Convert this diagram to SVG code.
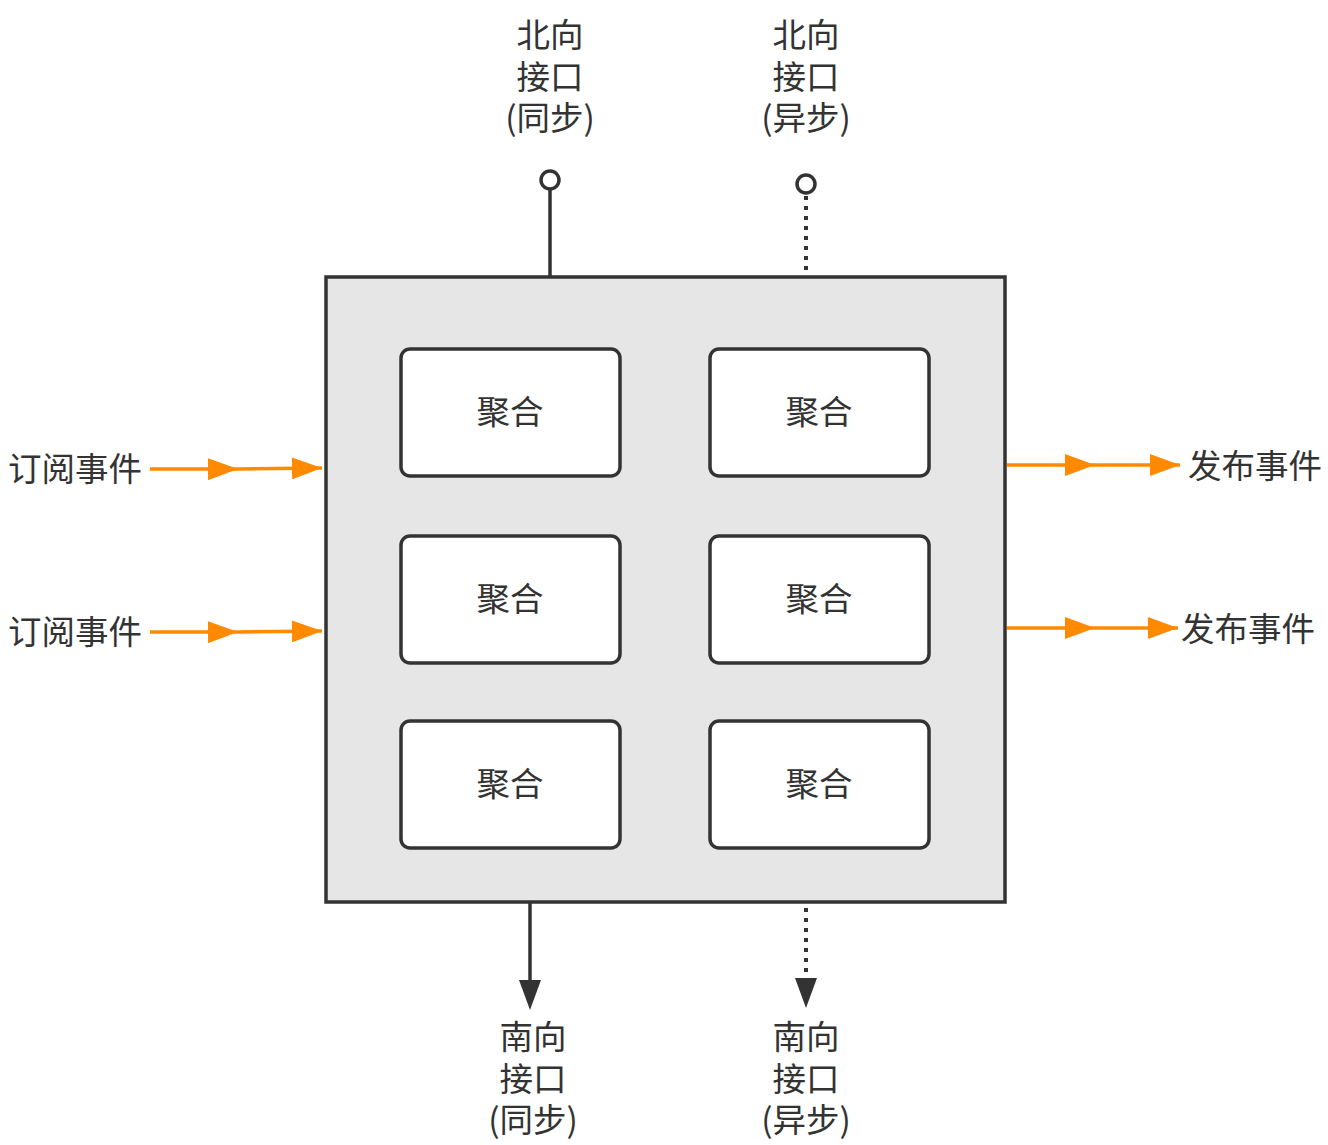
<svg xmlns="http://www.w3.org/2000/svg" width="1328" height="1145" viewBox="0 0 1328 1145">
<defs>
<style>
.t{font-family:"Noto Sans CJK SC","Liberation Sans",sans-serif;font-size:33.5px;fill:#333;text-anchor:middle}
.ts{font-family:"Noto Sans CJK SC","Liberation Sans",sans-serif;font-size:33.5px;fill:#333}
.box{fill:#fff;stroke:#333;stroke-width:3.5}
.org{fill:none;stroke:#FF8A00;stroke-width:3.5}
.dk{fill:none;stroke:#333;stroke-width:3.5}
.dot{fill:none;stroke:#333;stroke-width:4;stroke-dasharray:4 6}
</style>
<marker id="oa" viewBox="0 0 30 22" refX="30" refY="11" markerWidth="30" markerHeight="22" markerUnits="userSpaceOnUse" orient="auto"><path d="M0,0 L30,11 L0,22 Z" fill="#FF8A00"/></marker>
</defs>
<g id="main"><rect x="326" y="277" width="679" height="625" fill="#e6e6e6" stroke="#333" stroke-width="3.5"/></g>
<g id="agg1"><rect class="box" x="401" y="349" width="219" height="127" rx="9"/><text class="t" x="510" y="424">聚合</text></g>
<g id="agg2"><rect class="box" x="710" y="349" width="219" height="127" rx="9"/><text class="t" x="819" y="424">聚合</text></g>
<g id="agg3"><rect class="box" x="401" y="536" width="219" height="127" rx="9"/><text class="t" x="510" y="611">聚合</text></g>
<g id="agg4"><rect class="box" x="710" y="536" width="219" height="127" rx="9"/><text class="t" x="819" y="611">聚合</text></g>
<g id="agg5"><rect class="box" x="401" y="721" width="219" height="127" rx="9"/><text class="t" x="510" y="796">聚合</text></g>
<g id="agg6"><rect class="box" x="710" y="721" width="219" height="127" rx="9"/><text class="t" x="819" y="796">聚合</text></g>
<g id="connectors">
<line class="dk" x1="550" y1="188" x2="550" y2="277"/>
<circle cx="550" cy="180" r="9" fill="#fff" stroke="#333" stroke-width="3.5"/>
<line class="dot" x1="806" y1="196" x2="806" y2="277"/>
<circle cx="806" cy="184" r="9" fill="#fff" stroke="#333" stroke-width="3.5"/>
<polyline class="org" points="150,469 238,469 322,468" marker-mid="url(#oa)" marker-end="url(#oa)"/>
<polyline class="org" points="150,632 238,632 322,631" marker-mid="url(#oa)" marker-end="url(#oa)"/>
<polyline class="org" points="1007,465 1095,465 1180,465" marker-mid="url(#oa)" marker-end="url(#oa)"/>
<polyline class="org" points="1007,628 1095,628 1178,628" marker-mid="url(#oa)" marker-end="url(#oa)"/>
<line class="dk" x1="530" y1="902" x2="530" y2="985"/>
<path d="M519,980 L541,980 L530,1010 Z" fill="#333"/>
<line class="dot" x1="806" y1="908" x2="806" y2="975"/>
<path d="M795,978 L817,978 L806,1008 Z" fill="#333"/>
</g>
<g id="labels">
<text class="t" x="550" y="47">北向</text>
<text class="t" x="550" y="89">接口</text>
<text class="t" x="550" y="130">(同步)</text>
<text class="t" x="806" y="47">北向</text>
<text class="t" x="806" y="89">接口</text>
<text class="t" x="806" y="130">(异步)</text>
<text class="t" x="533" y="1049">南向</text>
<text class="t" x="533" y="1091">接口</text>
<text class="t" x="533" y="1132">(同步)</text>
<text class="t" x="806" y="1049">南向</text>
<text class="t" x="806" y="1091">接口</text>
<text class="t" x="806" y="1132">(异步)</text>
<text class="ts" x="8" y="481">订阅事件</text>
<text class="ts" x="8" y="644">订阅事件</text>
<text class="ts" x="1188" y="478">发布事件</text>
<text class="ts" x="1181" y="641">发布事件</text>
</g>
</svg>
